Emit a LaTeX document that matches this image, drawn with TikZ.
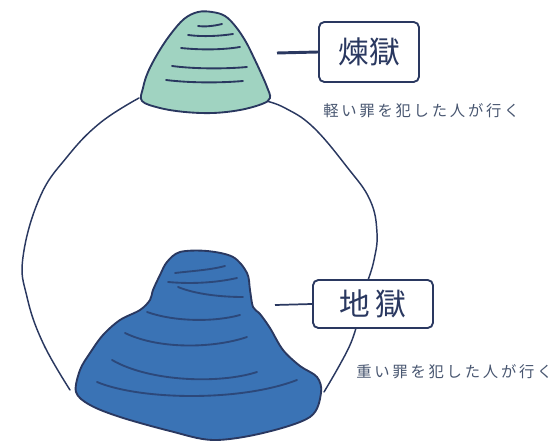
\documentclass[tikz,border=0pt]{standalone}
\usepackage{fontspec}
\usepackage{tikz}
\newfontfamily\jpfont{Noto Sans CJK JP}
\newfontfamily\jpcaption[LetterSpace=18]{Noto Sans CJK JP}
\definecolor{ink}{RGB}{42,56,96}
\definecolor{mint}{RGB}{160,211,193}
\definecolor{hellblue}{RGB}{58,115,181}
\definecolor{ridgeblue}{RGB}{44,72,122}
\definecolor{captiongray}{RGB}{72,86,112}

\begin{document}
\begin{tikzpicture}[x=0.75pt,y=-0.75pt,
	outline/.style={ink,line width=1.4pt,line join=round},
	ring/.style={ink,line width=1.1pt,line cap=round},
	ridge/.style={line width=1.4pt,line cap=round},
	namebox/.style={draw=ink,line width=1.4pt,rounded corners=4pt,inner sep=0pt,
		text=ink,font=\jpfont\fontsize{23}{23}\selectfont},
	caption/.style={anchor=west,inner sep=0pt,text=captiongray,
		font=\jpcaption\fontsize{11.5}{14}\selectfont}]
	\useasboundingbox (0,0) rectangle (560,441);
	% Outline of the world, drawn under the two mountains
	\draw[ring] plot[smooth,tension=0.7] coordinates {(139,98) (100,123) (67,157) (40,197) (23,257) (27,297) (43,343) (70,390)};
	\draw[ring] plot[smooth,tension=0.7] coordinates {(266,101) (285,108) (313,127) (347,167) (370,200) (377,233) (374,260) (368,280)};
	\draw[ring] plot[smooth,tension=0.7] coordinates {(356,328) (350,345) (338,368) (324,392)};
	% Small mountain on top
	\filldraw[outline,fill=mint] plot[smooth cycle,tension=0.6] coordinates {
		(198,12) (212,12) (225,16) (236,27) (246,42) (254,58) (261,73) (267,87) (270,98)
		(262,104) (240,110) (213,113) (185,112) (160,108) (142,101) (143,88) (148,72)
		(158,53) (170,35) (184,19)};
	\draw[ridge,ink] (198,26) .. controls (205,27) and (214,26) .. (222,24);
	\draw[ridge,ink] (188,35) .. controls (203,37) and (220,36) .. (233,34);
	\draw[ridge,ink] (181,48) .. controls (200,50) and (222,50) .. (240,47);
	\draw[ridge,ink] (172,66) .. controls (195,69) and (225,69) .. (247,67);
	\draw[ridge,ink] (166,80) .. controls (190,83) and (220,83) .. (243,81);
	% Big mountain below
	\filldraw[outline,fill=hellblue] plot[smooth cycle,tension=0.55] coordinates {
		(180,252) (207,251) (233,257) (247,273) (250,290) (253,307) (260,314) (270,328)
		(283,350) (300,366) (317,377) (321,393) (310,417) (263,433) (213,440) (170,431)
		(120,417) (90,405) (76,392) (80,370) (90,353) (103,335) (120,320) (140,310)
		(150,300) (153,290) (160,275) (167,262)};
	\draw[ridge,ridgeblue] (175,273) .. controls (192,271) and (210,270) .. (225,266);
	\draw[ridge,ridgeblue] (168,282) .. controls (190,284) and (215,283) .. (237,278);
	\draw[ridge,ridgeblue] (178,287) .. controls (195,294) and (220,297) .. (243,297);
	\draw[ridge,ridgeblue] (147,312) .. controls (175,322) and (215,322) .. (240,315);
	\draw[ridge,ridgeblue] (125,333) .. controls (160,350) and (215,348) .. (247,337);
	\draw[ridge,ridgeblue] (112,360) .. controls (150,382) and (220,384) .. (257,372);
	\draw[ridge,ridgeblue] (97,382) .. controls (140,400) and (240,402) .. (297,380);
	% Name boxes with their pointers
	\node[namebox,minimum width=75pt,minimum height=45pt] (rengoku) at (369,52) {煉獄};
	\node[namebox,minimum width=90pt,minimum height=36pt] (jigoku) at (373,304) {地\,獄};
	\coordinate (rpoint) at (277,53);
	\coordinate (jpoint) at (275,305);
	\draw[ink,line width=2.2pt] (rpoint) -- (rengoku.west);
	\draw[ink,line width=1.3pt] (jpoint) -- (jigoku.west);
	% Captions
	\node[caption] (rcaption) at (323,111) {軽い罪を犯した人が行く};
	\node[caption] (jcaption) at (356,372) {重い罪を犯した人が行く};
\end{tikzpicture}
\end{document}
